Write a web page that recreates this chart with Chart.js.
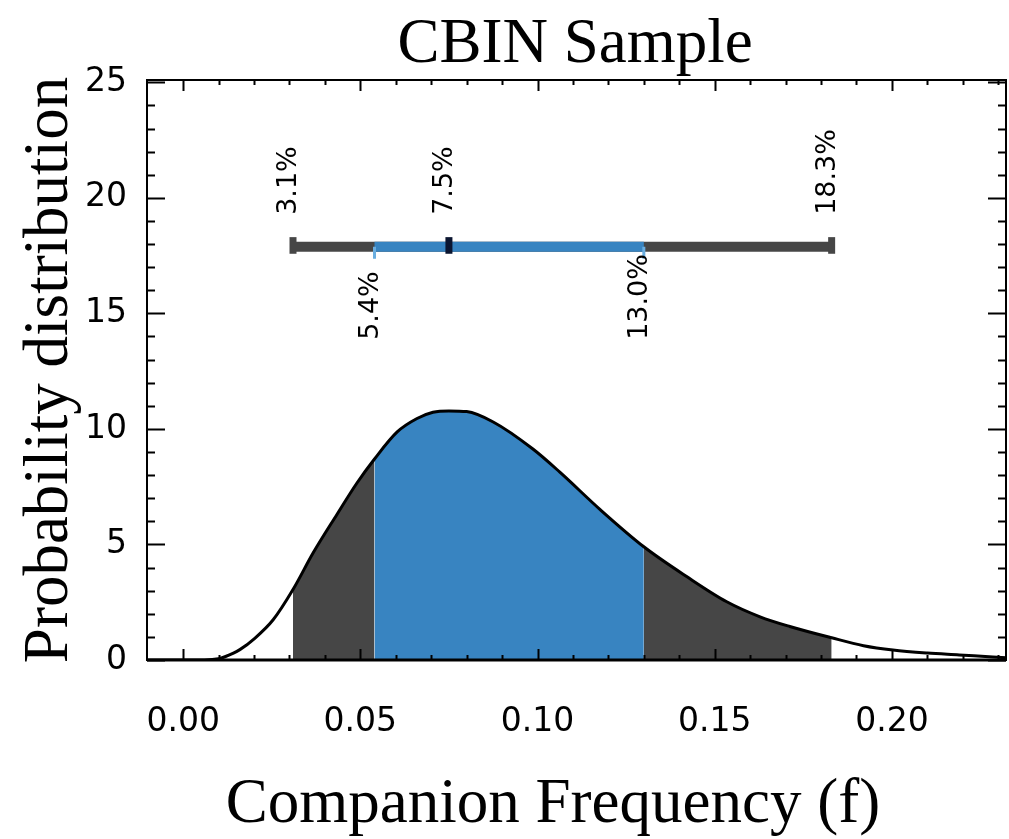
<!DOCTYPE html>
<html><head><meta charset="utf-8">
<script src="https://cdn.jsdelivr.net/npm/chart.js@4/dist/chart.umd.min.js"></script>
<style>html,body{margin:0;padding:0;background:#fff;}#wrap{width:1009px;height:839px;}</style>
</head><body><div id="wrap"><canvas id="c" width="1009" height="839"></canvas></div>
<script>
// ---- data ----
const freq    = [-0.0102, 0.000, 0.006, 0.010, 0.0118, 0.016, 0.0203, 0.0254, 0.031, 0.0367, 0.0434, 0.049, 0.054, 0.0604, 0.066, 0.0705, 0.075, 0.080, 0.0875, 0.0987, 0.1063, 0.1176, 0.130, 0.1422, 0.1534, 0.1628, 0.1712, 0.183, 0.192, 0.2003, 0.210, 0.219, 0.2285, 0.2322];
const density = [0, 0, 0, 0.05, 0.14, 0.45, 0.95, 1.74, 3.05, 4.64, 6.30, 7.65, 8.70, 9.87, 10.45, 10.72, 10.78, 10.75, 10.3, 9.13, 8.13, 6.52, 4.9, 3.6, 2.52, 1.87, 1.45, 0.96, 0.62, 0.43, 0.30, 0.22, 0.13, 0.10];
const outerBounds = [0.031, 0.183];   // 3.1% .. 18.3%
const innerBounds = [0.054, 0.130];   // 5.4% .. 13.0%
const medianValue = 0.075;            // 7.5%
const barLevel = 17.88;
const markerLabels = ['3.1%', '5.4%', '7.5%', '13.0%', '18.3%'];
const markerValues = [0.031, 0.054, 0.075, 0.130, 0.183];
const markerSides  = ['above', 'below', 'above', 'below', 'above'];
const xTickValues = [0, 0.05, 0.10, 0.15, 0.20];
const yTickValues = [0, 5, 10, 15, 20, 25];
const chartTitle = 'CBIN Sample';
const xTitle = 'Companion Frequency (f)';
const yTitle = 'Probability distribution';

const DARK = '#464646', BLUE = '#3884c1', LIGHTBLUE = '#6aaee0', NAVY = '#0b1530';

const curve = freq.map((x, i) => ({x, y: density[i]}));
const between = (lo, hi) => curve.filter(p => p.x >= lo - 1e-9 && p.x <= hi + 1e-9);
const seg = (x0, y0, x1, y1) => [{x: x0, y: y0}, {x: x1, y: y1}];

const fillDs = (data, color, order) => ({data, showLine: true, fill: 'origin', backgroundColor: color,
  borderWidth: 1, borderColor: color, pointRadius: 0, cubicInterpolationMode: 'monotone', order});
const lineDs = (data, color, width, order) => ({data, showLine: true, fill: false, borderColor: color,
  borderWidth: width, borderCapStyle: 'butt', pointRadius: 0, order});

const datasets = [
  lineDs(seg(medianValue, barLevel - 0.3, medianValue, barLevel + 0.42), NAVY, 7, 0),
  lineDs(seg(outerBounds[0], barLevel - 0.3, outerBounds[0], barLevel + 0.42), DARK, 7, 1),
  lineDs(seg(outerBounds[1], barLevel - 0.3, outerBounds[1], barLevel + 0.42), DARK, 7, 1),
  lineDs(seg(innerBounds[0], barLevel, innerBounds[0], barLevel - 0.52), LIGHTBLUE, 3, 2),
  lineDs(seg(innerBounds[1], barLevel, innerBounds[1], barLevel - 0.52), LIGHTBLUE, 3, 2),
  lineDs(seg(innerBounds[0], barLevel, innerBounds[1], barLevel), BLUE, 10, 3),
  lineDs(seg(outerBounds[0], barLevel, outerBounds[1], barLevel), DARK, 10, 4),
  Object.assign(lineDs(curve, '#000', 3, 5), {cubicInterpolationMode: 'monotone'}),
  fillDs(between(innerBounds[0], innerBounds[1]), BLUE, 6),
  fillDs(between(outerBounds[0], innerBounds[0]), DARK, 7),
  fillDs(between(innerBounds[1], outerBounds[1]), DARK, 7),
];

const TICK_FONT = {family: 'DejaVu Sans', size: 33};

const framePlugin = {
  id: 'frame',
  afterDraw(chart) {
    const {ctx, chartArea: a, scales: {x, y}} = chart;
    ctx.save();
    ctx.strokeStyle = '#000';
    ctx.lineWidth = 2;
    ctx.strokeRect(a.left, a.top, a.right - a.left, a.bottom - a.top);
    ctx.lineWidth = 3;
    ctx.beginPath(); ctx.moveTo(a.left, a.bottom); ctx.lineTo(a.right, a.bottom); ctx.stroke();
    ctx.lineWidth = 2;
    ctx.beginPath();
    for (let k = 0; k <= 23; k++) {
      const v = k / 100, px = Math.round(x.getPixelForValue(v)) + 0.5;
      const L = (k % 5 === 0) ? 11 : 5;
      ctx.moveTo(px, a.bottom); ctx.lineTo(px, a.bottom - L);
      ctx.moveTo(px, a.top); ctx.lineTo(px, a.top + L);
    }
    for (let k = 0; k <= 25; k++) {
      const py = Math.round(y.getPixelForValue(k)) + 0.5;
      const L = (k % 5 === 0) ? 18 : 8;
      ctx.moveTo(a.left, py); ctx.lineTo(a.left + L, py);
      ctx.moveTo(a.right, py); ctx.lineTo(a.right - L, py);
    }
    ctx.stroke();
    ctx.restore();
  }
};

const labelPlugin = {
  id: 'markerLabels',
  afterDatasetsDraw(chart) {
    const {ctx, scales: {x, y}} = chart;
    const by = y.getPixelForValue(barLevel);
    ctx.save();
    ctx.fillStyle = '#000';
    ctx.font = '27px "DejaVu Sans"';
    ctx.textBaseline = 'middle';
    ctx.textAlign = 'left';
    markerLabels.forEach((t, i) => {
      const px = x.getPixelForValue(markerValues[i]) - 4;
      const py = markerSides[i] === 'above' ? by - 32 : by + 93;
      ctx.save();
      ctx.translate(px, py);
      ctx.rotate(-Math.PI / 2);
      ctx.fillText(t, 0, 0);
      ctx.restore();
    });
    ctx.restore();
  }
};

const titlePlugin = {
  id: 'titles',
  afterDraw(chart) {
    const {ctx} = chart;
    ctx.save();
    ctx.fillStyle = '#000';
    ctx.font = '63px "Liberation Serif"';
    ctx.textAlign = 'center';
    ctx.textBaseline = 'alphabetic';
    ctx.fillText(chartTitle, 575, 62);
    ctx.fillText(xTitle, 553, 822);
    ctx.translate(67, 370);
    ctx.rotate(-Math.PI / 2);
    ctx.fillText(yTitle, 0, 0);
    ctx.restore();
  }
};

new Chart(document.getElementById('c'), {
  type: 'scatter',
  data: {datasets},
  options: {
    responsive: false,
    devicePixelRatio: 1,
    animation: false,
    layout: {padding: {left: 0, right: 3, top: 80, bottom: 0}},
    plugins: {legend: {display: false}, tooltip: {enabled: false}, title: {display: false}},
    scales: {
      x: {
        type: 'linear', min: -0.0102, max: 0.2322,
        afterBuildTicks: s => { s.ticks = xTickValues.map(v => ({value: v})); },
        afterFit: s => { s.height = 179; },
        ticks: {font: TICK_FONT, color: '#000', padding: 35, maxRotation: 0, autoSkip: false,
                callback: v => Number(v).toFixed(2)},
        grid: {display: false}, border: {display: false}
      },
      y: {
        type: 'linear', min: 0, max: 25.1,
        afterBuildTicks: s => { s.ticks = yTickValues.map(v => ({value: v})); },
        afterFit: s => { s.width = 147; },
        ticks: {font: TICK_FONT, color: '#000', padding: 12, autoSkip: false, callback: v => String(v)},
        grid: {display: false}, border: {display: false}
      }
    }
  },
  plugins: [framePlugin, labelPlugin, titlePlugin]
});
</script></body></html>
